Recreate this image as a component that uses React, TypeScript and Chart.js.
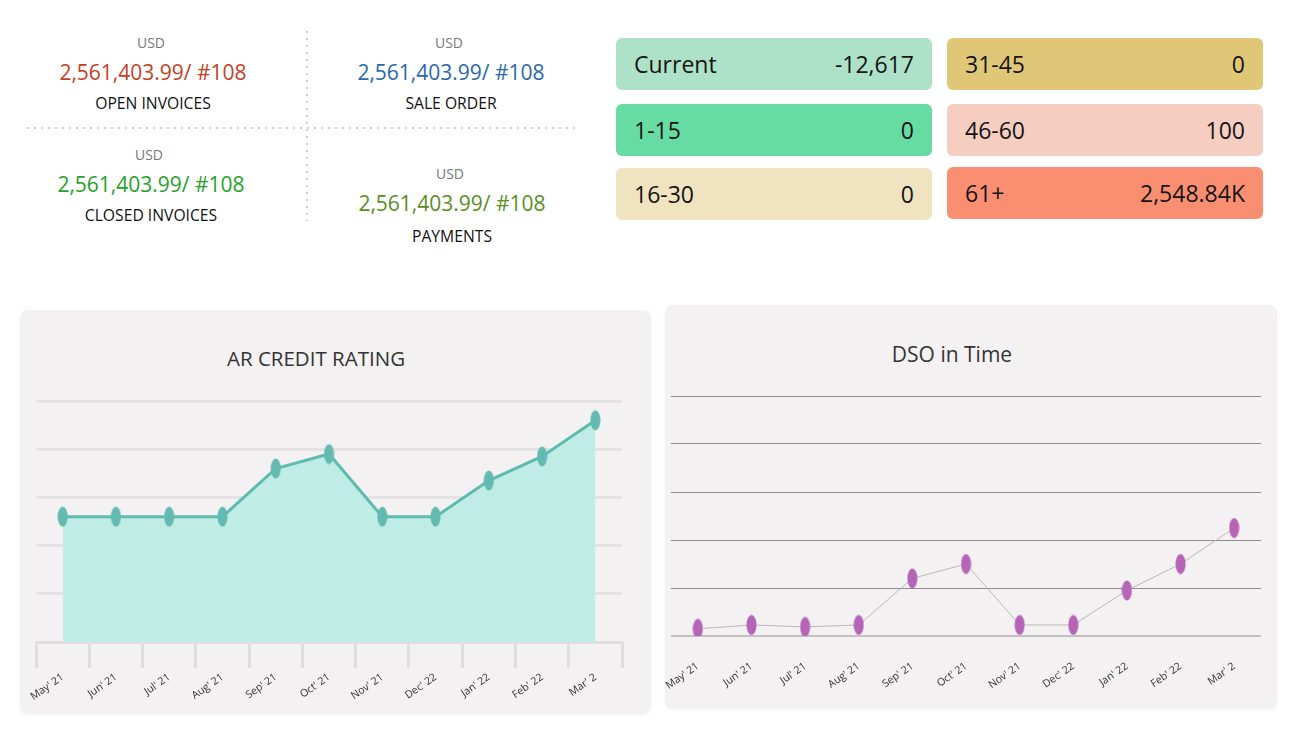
import React, { useEffect, useRef } from "react";
import { Chart, registerables } from "chart.js";
Chart.register(...registerables);

// ---- data ----
const months = ["May' 21", "Jun' 21", "Jul' 21", "Aug' 21", "Sep' 21", "Oct' 21", "Nov' 21", "Dec' 22", "Jan' 22", "Feb' 22", "Mar' 2"];
const creditRating = [52, 52, 52, 52, 72, 78, 52, 52, 67, 77, 92];
const dsoValues = [3, 4.6, 3.8, 4.6, 24, 30, 4.6, 4.6, 19, 30, 45];

const kpiCurrency = "USD";
const kpiTitles = ["OPEN INVOICES", "SALE ORDER", "CLOSED INVOICES", "PAYMENTS"];
const kpiAmounts = ["2,561,403.99", "2,561,403.99", "2,561,403.99", "2,561,403.99"];
const kpiCounts = [108, 108, 108, 108];

const agingLabels = ["Current", "1-15", "16-30", "31-45", "46-60", "61+"];
const agingValues = ["-12,617", "0", "0", "0", "100", "2,548.84K"];

// ---- styles ----
const FONT = "'Open Sans', 'Noto Sans', sans-serif";
const kpiColors = ["#c4411f", "#2a68ad", "#25a229", "#5a8e1e"];
const kpiPos = [
  { x: 153, y: 43 },
  { x: 451, y: 43 },
  { x: 151, y: 155 },
  { x: 452, y: 174 },
];
const agingColors = ["#ade2c8", "#67dca2", "#f0e3bf", "#e0c778", "#f5cdc1", "#f98f70"];
const agingPos = [
  { x: 616, y: 38 },
  { x: 616, y: 104 },
  { x: 616, y: 168 },
  { x: 947, y: 38 },
  { x: 947, y: 104 },
  { x: 947, y: 167 },
];

function ellipseImg(color: string, w: number, h: number) {
  const c = document.createElement("canvas");
  c.width = w;
  c.height = h;
  const g = c.getContext("2d")!;
  g.fillStyle = color;
  g.beginPath();
  g.ellipse(w / 2, h / 2, w / 2 - 0.5, h / 2 - 0.5, 0, 0, Math.PI * 2);
  g.fill();
  return c;
}

const fitX = (h: number) => (s: any) => {
  s.height = h;
  s.paddingLeft = 0;
  s.paddingRight = 0;
};
const fitY = (s: any) => {
  s.width = 0;
  s.paddingTop = 0;
  s.paddingBottom = 0;
};

function CreditChart() {
  const ref = useRef<HTMLCanvasElement>(null);
  useEffect(() => {
    const chart = new Chart(ref.current!, {
      type: "line",
      data: {
        labels: months,
        datasets: [
          {
            data: creditRating,
            borderColor: "#5fbbb0",
            borderWidth: 3,
            backgroundColor: "#bfece5",
            fill: "origin",
            tension: 0,
            pointStyle: ellipseImg("#62bab0", 11, 21) as any,
            pointRadius: 5,
          },
        ],
      },
      options: {
        animation: false,
        responsive: false,
        layout: { padding: { top: 21, left: 16, right: 29, bottom: 0 } },
        plugins: { legend: { display: false }, tooltip: { enabled: false } },
        scales: {
          x: {
            offset: true,
            grid: { display: true, offset: true, drawOnChartArea: false, drawTicks: true, tickLength: 26, color: "#dfdddd", lineWidth: 3 },
            border: { display: true, color: "#dfdddd", width: 3 },
            ticks: { minRotation: 35, maxRotation: 35, color: "#333", padding: 3, font: { family: FONT, size: 10.5 } },
            afterFit: fitX(72),
          },
          y: {
            min: 0,
            max: 100,
            ticks: { display: false, stepSize: 20 },
            grid: { color: "#e4e2e3", lineWidth: 3, drawTicks: false },
            border: { display: false },
            afterFit: fitY,
          },
        },
      },
    } as any);
    return () => chart.destroy();
  }, []);
  return <canvas ref={ref} width={631} height={334} style={{ position: "absolute", left: 0, top: 70 }} />;
}

function DsoChart() {
  const ref = useRef<HTMLCanvasElement>(null);
  useEffect(() => {
    const chart = new Chart(ref.current!, {
      type: "line",
      data: {
        labels: months,
        datasets: [
          {
            data: dsoValues,
            borderColor: "#b8b8b8",
            borderWidth: 1,
            fill: false,
            tension: 0,
            pointStyle: ellipseImg("#b564b8", 11, 21) as any,
            pointRadius: 5,
          },
        ],
      },
      options: {
        animation: false,
        responsive: false,
        layout: { padding: { top: 21, left: 6, right: 16, bottom: 0 } },
        plugins: { legend: { display: false }, tooltip: { enabled: false } },
        scales: {
          x: {
            offset: true,
            grid: { display: false, drawTicks: false },
            border: { display: false },
            ticks: { minRotation: 35, maxRotation: 35, color: "#333", padding: 24, font: { family: FONT, size: 10.5 } },
            afterFit: fitX(73),
          },
          y: {
            min: 0,
            max: 100,
            ticks: { display: false, stepSize: 20 },
            grid: {
              color: (c: any) => (c.tick && c.tick.value === 0 ? "#c2c2c2" : "#8c8c8c"),
              lineWidth: (c: any) => (c.tick && c.tick.value === 0 ? 2 : 1),
              drawTicks: false,
            },
            border: { display: false },
            afterFit: fitY,
          },
        },
      },
    } as any);
    return () => chart.destroy();
  }, []);
  return <canvas ref={ref} width={612} height={334} style={{ position: "absolute", left: 0, top: 70 }} />;
}

const center = (x: number, y: number, h: number): React.CSSProperties => ({
  position: "absolute",
  left: x - 200,
  width: 400,
  top: y - h / 2,
  height: h,
  lineHeight: h + "px",
  textAlign: "center",
  whiteSpace: "nowrap",
});

export default function App() {
  return (
    <div
      style={{
        position: "absolute",
        left: 0,
        top: 0,
        width: 1296,
        height: 739,
        background: "#ffffff",
        fontFamily: FONT,
        overflow: "hidden",
      }}
    >
      {/* dotted separators */}
      <div
        style={{
          position: "absolute",
          left: 306,
          top: 31,
          width: 2,
          height: 190,
          backgroundImage: "repeating-linear-gradient(to bottom, #cfcfcf 0 2px, transparent 2px 7px)",
        }}
      />
      <div
        style={{
          position: "absolute",
          left: 27,
          top: 127,
          width: 552,
          height: 2,
          backgroundImage: "repeating-linear-gradient(to right, #cfcfcf 0 2px, transparent 2px 7px)",
        }}
      />
      {kpiTitles.map((t, i) => (
        <React.Fragment key={t}>
          <div style={{ ...center(kpiPos[i].x - 2, kpiPos[i].y, 18), fontSize: 14, color: "#777" }}>{kpiCurrency}</div>
          <div style={{ ...center(kpiPos[i].x, kpiPos[i].y + 29, 26), fontSize: 21, color: kpiColors[i] }}>
            {kpiAmounts[i]}/ #{kpiCounts[i]}
          </div>
          <div style={{ ...center(kpiPos[i].x, kpiPos[i].y + (i === 3 ? 62 : 60), 20), fontSize: 15.7, color: "#111" }}>{t}</div>
        </React.Fragment>
      ))}

      {agingLabels.map((l, i) => (
        <div
          key={l}
          style={{
            position: "absolute",
            left: agingPos[i].x,
            top: agingPos[i].y,
            width: 316,
            height: 52,
            borderRadius: 6,
            background: agingColors[i],
            color: "#151515",
            fontSize: 23,
            lineHeight: "52px",
            boxSizing: "border-box",
            padding: "0 18px",
            display: "flex",
            justifyContent: "space-between",
          }}
        >
          <span>{l}</span>
          <span>{agingValues[i]}</span>
        </div>
      ))}

      {/* AR credit rating panel */}
      <div
        style={{
          position: "absolute",
          left: 20,
          top: 310,
          width: 631,
          height: 404,
          background: "#f3f1f2",
          borderRadius: 8,
          boxShadow: "0 1px 3px rgba(0,0,0,0.06)",
        }}
      >
        <div style={{ ...center(296, 48, 26), fontSize: 20.5, color: "#333" }}>AR CREDIT RATING</div>
        <CreditChart />
      </div>

      {/* DSO panel */}
      <div
        style={{
          position: "absolute",
          left: 665,
          top: 305,
          width: 612,
          height: 404,
          background: "#f3f1f2",
          borderRadius: 8,
          boxShadow: "0 1px 3px rgba(0,0,0,0.06)",
        }}
      >
        <div style={{ ...center(287, 49, 26), fontSize: 21, color: "#333" }}>DSO in Time</div>
        <DsoChart />
      </div>
    </div>
  );
}
